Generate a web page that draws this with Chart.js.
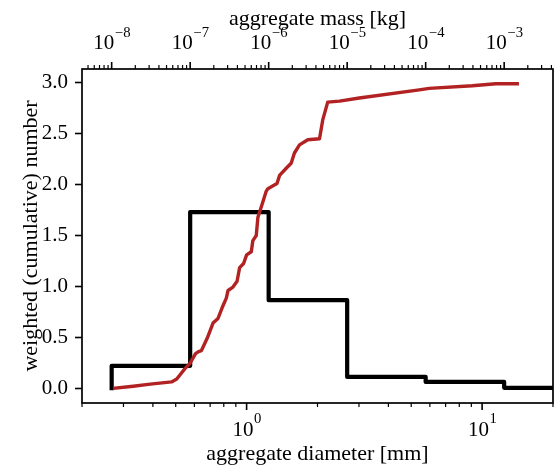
<!DOCTYPE html>
<html><head><meta charset="utf-8">
<script src="https://cdn.jsdelivr.net/npm/chart.js@4.4.1/dist/chart.umd.min.js"></script>
<style>html,body{margin:0;padding:0;background:#fff}</style>
</head><body>
<canvas id="c" width="558" height="469"></canvas>
<script>
// ---- data ----
const massBinEdges = [1e-8, 1e-7, 1e-6, 1e-5, 1e-4, 1e-3, 1e-2];   // kg
const binNumbers   = [0.22, 1.73, 0.865, 0.111, 0.062, 0.004];      // weighted number per bin
const cumDiameter  = [0.276, 0.33, 0.39, 0.48, 0.505, 0.525, 0.546, 0.573, 0.607, 0.625, 0.643, 0.68, 0.72, 0.756, 0.787, 0.82, 0.834, 0.872, 0.911, 0.934, 0.971, 1.0, 1.047, 1.063, 1.099, 1.117, 1.143, 1.172, 1.209, 1.231, 1.346, 1.38, 1.473, 1.546, 1.596, 1.677, 1.819, 2.04, 2.105, 2.21, 2.48, 3.01, 5.41, 5.96, 9.09, 11.43, 14.1];
const cumNumber    = [0.0, 0.02, 0.04, 0.062, 0.09, 0.14, 0.19, 0.24, 0.34, 0.36, 0.37, 0.49, 0.64, 0.685, 0.79, 0.885, 0.96, 0.99, 1.05, 1.185, 1.225, 1.31, 1.34, 1.45, 1.50, 1.68, 1.75, 1.83, 1.93, 1.96, 2.01, 2.09, 2.16, 2.21, 2.31, 2.39, 2.44, 2.45, 2.635, 2.81, 2.82, 2.85, 2.93, 2.945, 2.97, 2.99, 2.99];
const diameterLimits = [0.2, 20];          // mm
const yLimits = [-0.145, 3.135];
const yTickValues = [0, 0.5, 1.0, 1.5, 2.0, 2.5, 3.0];
const xTitle = 'aggregate diameter [mm]';
const x2Title = 'aggregate mass [kg]';
const yTitle = 'weighted (cumulative) number';
const density = 1000; // kg/m^3

function massFromDiameter(dmm) { return Math.PI / 6 * density * Math.pow(dmm * 1e-3, 3); }
function diameterFromMass(m) { return Math.cbrt(6 * m / (Math.PI * density)) * 1e3; }

const FAMILY = "'Liberation Serif', 'Times New Roman', serif";

// build step points for the binned distribution
const edgesD = massBinEdges.map(diameterFromMass);
const stepPts = [{x: edgesD[0], y: 0}];
binNumbers.forEach((v, i) => stepPts.push({x: edgesD[i], y: v}));
stepPts.push({x: edgesD[edgesD.length - 1], y: binNumbers[binNumbers.length - 1]});

const cumPts = cumDiameter.map((d, i) => ({x: d, y: cumNumber[i]}));

function logTicks(lo, hi) {
  const out = [];
  const e0 = Math.floor(Math.log10(lo)), e1 = Math.ceil(Math.log10(hi));
  for (let e = e0; e <= e1; e++) {
    for (let m = 1; m <= 9; m++) {
      const v = m * Math.pow(10, e);
      if (v >= lo * (1 - 1e-9) && v <= hi * (1 + 1e-9)) out.push({v, major: m === 1, e});
    }
  }
  return out;
}

function drawPow(ctx, cx, baseY, e) {
  const main = '10';
  const sup = e < 0 ? '\u2212' + (-e) : String(e);
  ctx.font = '21px ' + FAMILY;
  const w1 = ctx.measureText(main).width;
  ctx.font = '14.7px ' + FAMILY;
  const w2 = ctx.measureText(sup).width;
  const x0 = cx - (w1 + w2) / 2;
  ctx.font = '21px ' + FAMILY;
  ctx.fillText(main, x0, baseY);
  ctx.font = '14.7px ' + FAMILY;
  ctx.fillText(sup, x0 + w1 + 0.5, baseY - 12.7);
}

const axisDecor = {
  id: 'axisDecor',
  afterDatasetsDraw(chart) {
    const {ctx, chartArea: a} = chart;
    const xs = chart.scales.x, xt = chart.scales.x2;
    ctx.save();
    ctx.strokeStyle = '#000';
    ctx.fillStyle = '#000';
    ctx.textAlign = 'left';
    ctx.textBaseline = 'alphabetic';
    // bottom axis ticks
    logTicks(xs.min, xs.max).forEach(t => {
      const px = xs.getPixelForValue(t.v);
      ctx.lineWidth = t.major ? 1.6 : 1.2;
      const len = t.major ? 7 : 4;
      ctx.beginPath(); ctx.moveTo(px, a.bottom); ctx.lineTo(px, a.bottom + len); ctx.stroke();
      if (t.major) drawPow(ctx, px, a.bottom + 33, t.e);
    });
    // top axis ticks
    logTicks(xt.min, xt.max).forEach(t => {
      const px = xt.getPixelForValue(t.v);
      ctx.lineWidth = t.major ? 1.6 : 1.2;
      const len = t.major ? 7 : 4;
      ctx.beginPath(); ctx.moveTo(px, a.top); ctx.lineTo(px, a.top - len); ctx.stroke();
      if (t.major) drawPow(ctx, px, a.top - 19.7, t.e);
    });
    // frame
    ctx.lineWidth = 1.7;
    ctx.strokeRect(a.left, a.top, a.right - a.left, a.bottom - a.top);
    ctx.restore();
  }
};

new Chart(document.getElementById('c'), {
  type: 'line',
  data: {
    datasets: [
      {
        label: 'cumulative',
        data: cumPts,
        borderColor: '#b22222',
        borderWidth: 3.4,
        pointRadius: 0,
        tension: 0,
        borderJoinStyle: 'round',
        borderCapStyle: 'square',
        fill: false
      },
      {
        label: 'binned',
        data: stepPts,
        borderColor: '#000000',
        borderWidth: 4.2,
        pointRadius: 0,
        stepped: 'before',
        borderJoinStyle: 'round',
        borderCapStyle: 'square',
        fill: false
      }
    ]
  },
  options: {
    responsive: false,
    animation: false,
    devicePixelRatio: 1,
    layout: {padding: {left: 0, right: 5, top: 0, bottom: 0}},
    plugins: {legend: {display: false}, tooltip: {enabled: false}},
    scales: {
      x: {
        type: 'logarithmic', position: 'bottom',
        min: diameterLimits[0], max: diameterLimits[1],
        ticks: {display: false},
        grid: {display: false},
        border: {display: false},
        title: {display: true, text: xTitle, color: '#000',
                font: {family: FAMILY, size: 22, lineHeight: 1},
                padding: {top: 0, bottom: 3.6}},
        afterFit: s => { s.height = 66; }
      },
      x2: {
        type: 'logarithmic', position: 'top', axis: 'x',
        min: massFromDiameter(diameterLimits[0]), max: massFromDiameter(diameterLimits[1]),
        ticks: {display: false},
        grid: {display: false},
        border: {display: false},
        title: {display: true, text: x2Title, color: '#000',
                font: {family: FAMILY, size: 22, lineHeight: 1},
                padding: {top: 8.3, bottom: 0}},
        afterFit: s => { s.height = 69; }
      },
      y: {
        type: 'linear', position: 'left',
        min: yLimits[0], max: yLimits[1],
        afterBuildTicks: s => { s.ticks = yTickValues.map(v => ({value: v})); },
        ticks: {color: '#000', font: {family: FAMILY, size: 21}, padding: 7,
                callback: v => Number(v).toFixed(1)},
        grid: {drawOnChartArea: false, drawTicks: true, tickLength: 7, tickWidth: 1.6, tickColor: '#000'},
        border: {display: false},
        title: {display: true, text: yTitle, color: '#000',
                font: {family: FAMILY, size: 22, lineHeight: 1},
                padding: {top: 20.5, bottom: 0}},
        afterFit: s => { s.width = 82; }
      }
    }
  },
  plugins: [axisDecor]
});
</script>
</body></html>
